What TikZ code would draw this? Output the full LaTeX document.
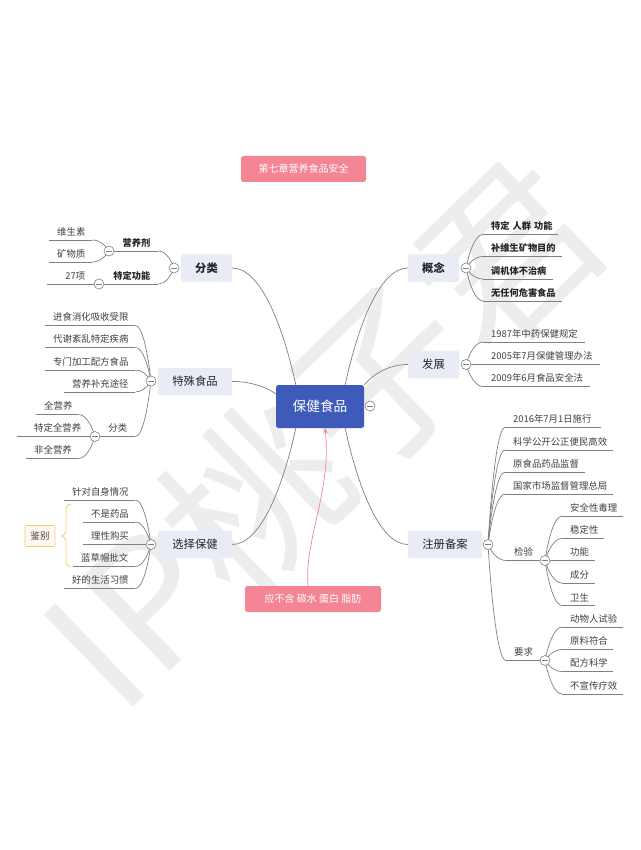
\documentclass[tikz,border=0pt]{standalone}
\usepackage{fontspec}
\setmainfont{Noto Sans CJK SC}
\usetikzlibrary{calc,arrows.meta}
\pgfdeclarelayer{wm}
\pgfdeclarelayer{edges}
\pgfsetlayers{wm,edges,main}
\definecolor{linec}{HTML}{808080}
\definecolor{textc}{HTML}{404040}
\definecolor{topicf}{HTML}{E9EBF5}
\definecolor{mainf}{HTML}{3F5BBA}
\definecolor{pinkf}{HTML}{F38595}
\definecolor{markf}{HTML}{EDEDED}
\definecolor{alertc}{HTML}{F5CB80}
\tikzset{
  conn/.style={draw=linec,line width=0.7pt},
  circ/.style={circle,draw=linec,line width=0.6pt,fill=white,minimum size=10pt,inner sep=0pt,
    path picture={\draw[linec,line width=0.6pt] ([xshift=-2.6pt]path picture bounding box.center) -- ([xshift=2.6pt]path picture bounding box.center);}},
  topic/.style={rectangle,rounded corners=2pt,fill=topicf,inner sep=0pt,minimum height=27.5pt,text=black!85,font=\fontsize{11.3}{13}\selectfont},
  banner/.style={rectangle,rounded corners=2.5pt,fill=pinkf,text=white,inner sep=0pt,font=\fontsize{10}{12}\selectfont},
  leaf/.style={rectangle,inner ysep=0pt,inner xsep=8pt,minimum height=16pt,text=textc,font=\fontsize{9.4}{11}\selectfont},
  bleaf/.style={leaf,text=black!85,font=\fontsize{9.2}{11}\selectfont\bfseries},
}
\newcommand{\leafL}[6][leaf]{%
  \pgfmathsetlengthmacro\lw{#4-#3-16}%
  \node[#1,anchor=south west,text width=\lw,align=right] (#2) at (#3,#5) {\mbox{#6}};}
\newcommand{\leafR}[6][leaf]{%
  \pgfmathsetlengthmacro\lw{#4-#3-16}%
  \node[#1,anchor=south west,text width=\lw,align=left] (#2) at (#3,#5) {\mbox{#6}};}
\newcommand{\lnk}[2]{%
  \begin{pgfonlayer}{edges}
  \draw[conn] let \p1=(#1),\p2=(#2) in (\p1) .. controls ({\x1+0.2*(\x2-\x1)},{\y1+0.5*(\y2-\y1)}) and ({\x1+0.55*(\x2-\x1)},\y2) .. (\p2);
  \end{pgfonlayer}}
\newcommand{\lnkL}[2]{\lnk{#1}{#2.south east}\begin{pgfonlayer}{edges}\draw[conn] (#2.south east) -- (#2.south west);\end{pgfonlayer}}
\newcommand{\lnkR}[2]{\lnk{#1}{#2.south west}\begin{pgfonlayer}{edges}\draw[conn] (#2.south west) -- (#2.south east);\end{pgfonlayer}}
\begin{document}
\begin{tikzpicture}[x=1pt,y=-1pt]
\useasboundingbox (0,0) rectangle (640,850);
\begin{pgfonlayer}{wm}
\fill[white] (0,0) rectangle (640,850);
\node[rotate=44,text=markf,font=\fontsize{175}{180}\selectfont] (wmark) at (322,433) {IP桃子君};
\end{pgfonlayer}
% banners
\node[banner,minimum width=125pt,minimum height=26pt] (title) at (303.5,169) {第七章营养食品安全};
\node[banner,minimum width=136pt,minimum height=26pt] (note) at (313,599) {应不含 碳水 蛋白 脂肪};
% centre
\node[rectangle,rounded corners=2.5pt,fill=mainf,text=white,inner sep=0pt,minimum width=88pt,minimum height=43pt,font=\fontsize{13.7}{16}\selectfont] (main) at (320,406.5) {保健食品};
\node[circ] (cmain) at (370,406) {};
% topics
\node[topic,minimum width=51pt,font=\fontsize{11.3}{13}\selectfont\bfseries] (fl) at (206.5,268) {分类};
\node[topic,minimum width=74pt] (ts) at (195,381.5) {特殊食品};
\node[topic,minimum width=74pt] (xz) at (195,544.5) {选择保健};
\node[topic,minimum width=51pt,font=\fontsize{11.3}{13}\selectfont\bfseries] (gn) at (433.5,268) {概念};
\node[topic,minimum width=51pt] (fz) at (433.5,364.5) {发展};
\node[topic,minimum width=74pt] (zc) at (445,544.5) {注册备案};
% circles
\node[circ] (cfl) at (174,268) {};
\node[circ] (cyy) at (109,251) {};
\node[circ] (ctd) at (99,284) {};
\node[circ] (cts) at (151,381) {};
\node[circ] (cfl2) at (95,436.5) {};
\node[circ] (cxz) at (151,544.5) {};
\node[circ] (cgn) at (466,268) {};
\node[circ] (cfz) at (466,364.5) {};
\node[circ] (czc) at (488,544.5) {};
\node[circ] (cjy) at (545,560.5) {};
\node[circ] (cyq) at (545,660.5) {};
% left leaves
\leafL[bleaf]{yy}{114}{158}{251}{营养剂}
\leafL{wss}{49}{92}{240}{维生素}
\leafL{kwz}{49}{92}{262}{矿物质}
\leafL[bleaf]{td}{105}{158}{284}{特定功能}
\leafL{q27}{47}{93}{284}{27项}
\leafL{a1}{45}{135}{325.5}{进食消化吸收受限}
\leafL{a2}{45}{135}{347.5}{代谢紊乱特定疾病}
\leafL{a3}{45}{135}{370}{专门加工配方食品}
\leafL{a4}{64}{135}{392}{营养补充途径}
\leafL{a5}{100}{135}{436.5}{分类}
\leafL{b1}{36}{78}{414.5}{全营养}
\leafL{b2}{17}{89}{436.5}{特定全营养}
\leafL{b3}{26}{78}{458.5}{非全营养}
\leafL{c1}{64}{135}{500}{针对自身情况}
\leafL{c2}{83}{135}{522}{不是药品}
\leafL{c3}{83}{135}{544.5}{理性购买}
\leafL{c4}{73}{135}{566.5}{蓝草帽批文}
\leafL{c5}{64}{135}{588.5}{好的生活习惯}
% right leaves
\leafR[bleaf]{d1}{483}{558}{234.5}{特定 人群 功能}
\leafR[bleaf]{d2}{483}{562}{256.5}{补维生矿物目的}
\leafR[bleaf]{d3}{483}{553}{279}{调机体不治病}
\leafR[bleaf]{d4}{483}{562}{301}{无任何危害食品}
\leafR{e1}{483}{585}{342}{1987年中药保健规定}
\leafR{e2}{483}{600}{364.5}{2005年7月保健管理办法}
\leafR{e3}{483}{590}{386.5}{2009年6月食品安全法}
\leafR{f1}{505}{601}{427.5}{2016年7月1日施行}
\leafR{f2}{505}{613}{450}{科学公开公正便民高效}
\leafR{f3}{505}{585}{472}{原食品药品监督}
\leafR{f4}{505}{613}{494}{国家市场监督管理总局}
\leafR{jy}{506}{540}{560.5}{检验}
\leafR{yq}{506}{540}{660.5}{要求}
\leafR{g1}{562}{623}{516}{安全性毒理}
\leafR{g2}{562}{604}{538.5}{稳定性}
\leafR{g3}{562}{595}{560.5}{功能}
\leafR{g4}{562}{595}{583}{成分}
\leafR{g5}{562}{595}{605.5}{卫生}
\leafR{h1}{562}{623}{627}{动物人试验}
\leafR{h2}{562}{613}{649.5}{原料符合}
\leafR{h3}{562}{613}{671.5}{配方科学}
\leafR{h4}{562}{623}{694}{不宣传疗效}
% main links
\lnk{[xshift=20pt]main.north west}{fl.east}
\lnk{[yshift=-9pt]main.north west}{ts.east}
\lnk{[xshift=20pt]main.south west}{xz.east}
\lnk{[xshift=-19pt]main.north east}{gn.west}
\lnk{main.north east}{fz.west}
\lnk{[xshift=-19pt]main.south east}{zc.west}
% sub links
\lnkL{cfl}{yy}\lnkL{cfl}{td}
\lnkL{cyy}{wss}\lnkL{cyy}{kwz}
\lnkL{ctd}{q27}
\lnkL{cts}{a1}\lnkL{cts}{a2}\lnkL{cts}{a3}\lnkL{cts}{a4}\lnkL{cts}{a5}
\lnkL{cfl2}{b1}\lnkL{cfl2}{b2}\lnkL{cfl2}{b3}
\lnkL{cxz}{c1}\lnkL{cxz}{c2}\lnkL{cxz}{c3}\lnkL{cxz}{c4}\lnkL{cxz}{c5}
\lnkR{cgn}{d1}\lnkR{cgn}{d2}\lnkR{cgn}{d3}\lnkR{cgn}{d4}
\lnkR{cfz}{e1}\lnkR{cfz}{e2}\lnkR{cfz}{e3}
\lnkR{czc}{f1}\lnkR{czc}{f2}\lnkR{czc}{f3}\lnkR{czc}{f4}\lnkR{czc}{jy}\lnkR{czc}{yq}
\lnkR{cjy}{g1}\lnkR{cjy}{g2}\lnkR{cjy}{g3}\lnkR{cjy}{g4}\lnkR{cjy}{g5}
\lnkR{cyq}{h1}\lnkR{cyq}{h2}\lnkR{cyq}{h3}\lnkR{cyq}{h4}
\begin{pgfonlayer}{edges}
\draw[conn] (a5.south west) -- (cfl2);
\draw[conn] (td.south west) -- (ctd);
\draw[conn] (yy.south west) -- (cyy);
\draw[conn] (jy.south east) -- (cjy);
\draw[conn] (yq.south east) -- (cyq);
\end{pgfonlayer}
% alert
\node[rectangle,rounded corners=2pt,draw=alertc,line width=0.8pt,fill=orange!6,inner sep=0pt,minimum width=30pt,minimum height=21pt,text=textc,font=\fontsize{9.4}{11}\selectfont] (jb) at (40,536) {鉴别};
\coordinate (bt) at (71,504);
\coordinate (bb) at (71,566.5);
\draw[alertc,line width=0.8pt] (bt) .. controls (67,504) and (66,508) .. (66,512) -- (66,530) .. controls (66,534) and (64,535) .. (62,536) .. controls (64,537) and (66,538) .. (66,542) -- (66,560) .. controls (66,564) and (67,566.5) .. (bb);
% note arrow
\draw[pinkf,line width=0.7pt,-{Stealth[length=5pt,width=4.5pt]}] ([xshift=-5pt]note.north) .. controls (304,540) and (332,490) .. ([xshift=5pt]main.south);
\end{tikzpicture}
\end{document}
